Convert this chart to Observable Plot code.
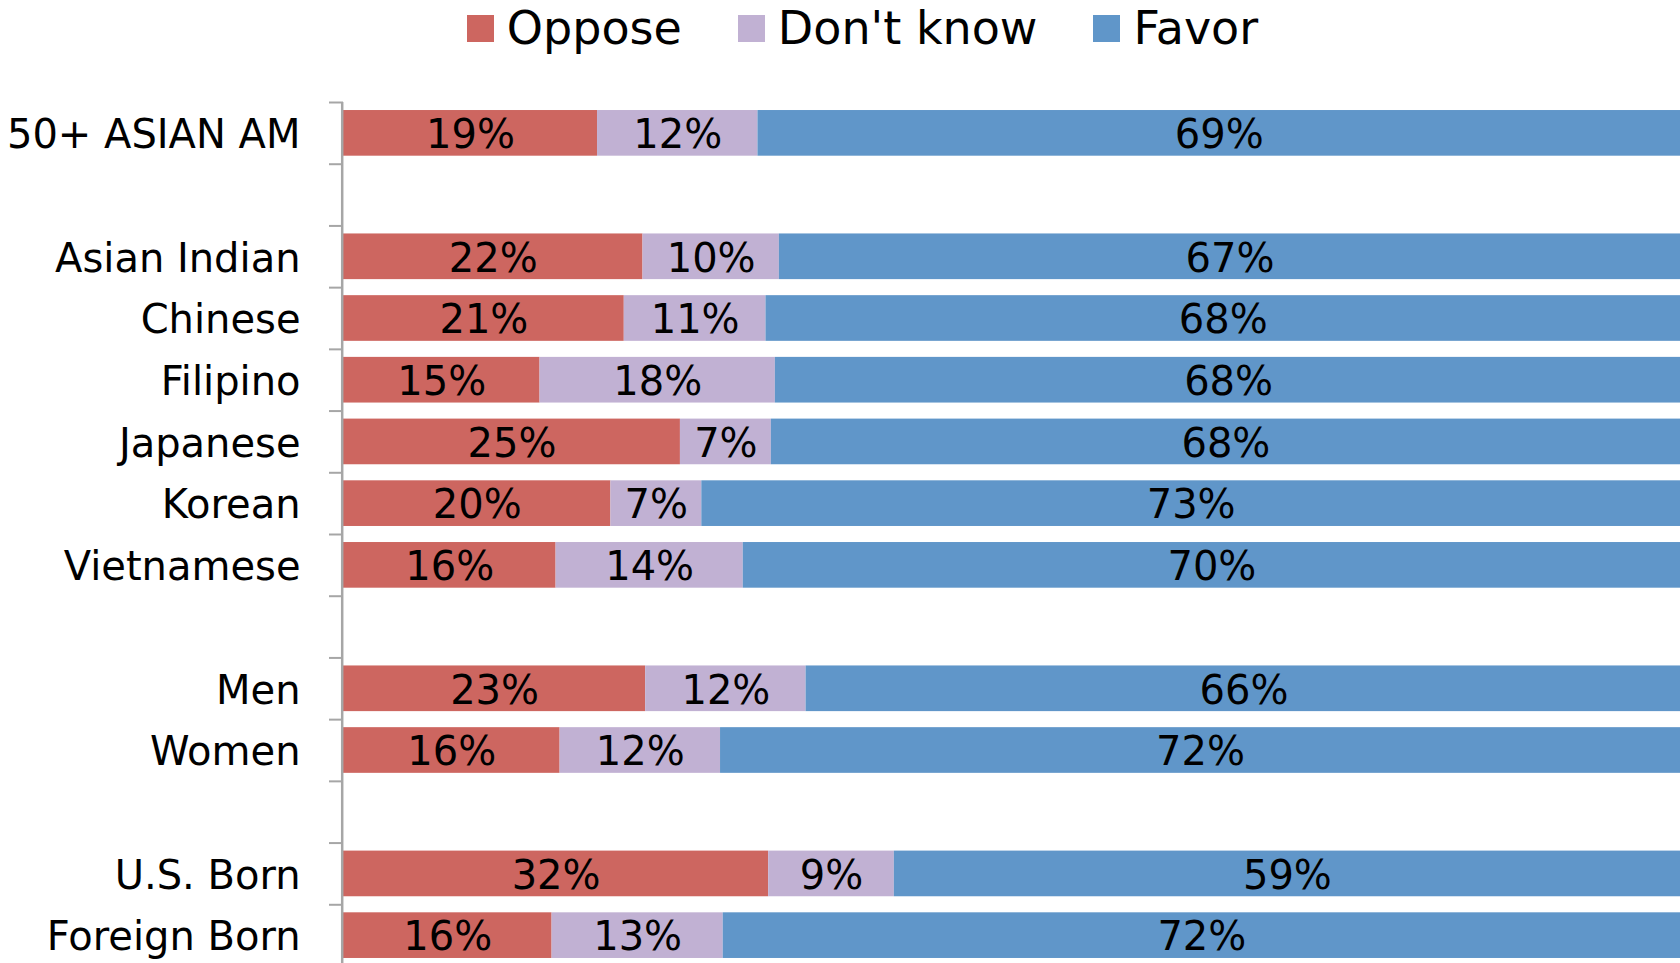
<!DOCTYPE html>
<html><head><meta charset="utf-8">
<script src="https://cdn.jsdelivr.net/npm/d3@7"></script>
<script src="https://cdn.jsdelivr.net/npm/@observablehq/plot@0.6"></script>
<style>
html,body{margin:0;padding:0;background:#fff;overflow:hidden;width:1680px;height:963px;}
body{font-family:"DejaVu Sans",sans-serif;color:#000;}
#legend{height:60px;display:flex;justify-content:center;align-items:flex-start;padding-left:45px;padding-top:5px;box-sizing:border-box;font-size:46px;line-height:1;}
.item{display:flex;align-items:center;margin:0 28px;white-space:nowrap;}
.sw{width:27px;height:27px;margin-right:13px;flex:none;}
#chart svg{display:block;}
</style></head><body>
<div id="legend"></div>
<div id="chart"></div>
<script>
const series = ["Oppose", "Don't know", "Favor"];
const seriesColors = ["#CD6660", "#C1B1D3", "#6096C9"];
const rows = ["50+ ASIAN AM", "gap1", "Asian Indian", "Chinese", "Filipino", "Japanese", "Korean", "Vietnamese", "gap2", "Men", "Women", "gap3", "U.S. Born", "Foreign Born"];
const categories = ["50+ ASIAN AM", "Asian Indian", "Chinese", "Filipino", "Japanese", "Korean", "Vietnamese", "Men", "Women", "U.S. Born", "Foreign Born"];
const oppose   = [19.0, 22.4, 21.0, 14.7, 25.2, 20.0, 15.9, 22.6, 16.2, 31.8, 15.6];
const dontKnow = [12.0, 10.2, 10.6, 17.6,  6.8,  6.8, 14.0, 12.0, 12.0,  9.4, 12.8];
const favor    = [69.0, 67.4, 68.4, 67.8, 68.0, 73.2, 70.1, 65.5, 71.8, 58.8, 71.6];

const valuesBySeries = [oppose, dontKnow, favor];
const data = [];
categories.forEach((c, i) => {
  series.forEach((s, j) => data.push({row: c, series: s, value: valuesBySeries[j][i]}));
});

// legend
const legend = document.getElementById("legend");
series.forEach((s, j) => {
  const it = document.createElement("div");
  it.className = "item";
  const sw = document.createElement("div");
  sw.className = "sw";
  sw.style.background = seriesColors[j];
  const tx = document.createElement("span");
  tx.textContent = s;
  it.appendChild(sw); it.appendChild(tx);
  legend.appendChild(it);
});

const width = 1680, height = 906, marginTop = 42, marginBottom = 0, marginLeft = 343, marginRight = 0;
const step = (height - marginTop - marginBottom) / rows.length;

const chart = Plot.plot({
  width, height, marginTop, marginBottom, marginLeft, marginRight,
  style: {fontFamily: "DejaVu Sans, sans-serif", color: "#000", background: "#fff", overflow: "visible"},
  x: {domain: [0, 100], axis: null},
  y: {domain: rows, paddingInner: 0.26, paddingOuter: 0.13, round: false, label: null},
  color: {domain: series, range: seriesColors},
  marks: [
    Plot.barX(data, {x: "value", y: "row", fill: "series", order: series}),
    Plot.text(data, Plot.stackX({x: "value", y: "row", z: "series", order: series,
      text: d => Math.round(d.value) + "%", fontSize: 40, fill: "#000", dy: 2})),
    Plot.ruleX([0], {stroke: "#A6A6A6", strokeWidth: 2.5, dx: -1.3}),
    Plot.axisY({tickSize: 14, tickFormat: () => "", dy: -step / 2, stroke: "#A6A6A6", strokeWidth: 2, label: null}),
    Plot.axisY({tickSize: 0, tickPadding: 43, fontSize: 40, fill: "#000", label: null,
      tickFormat: d => d.startsWith("gap") ? "" : d, dy: 2})
  ]
});
document.getElementById("chart").appendChild(chart);
</script>
</body></html>
